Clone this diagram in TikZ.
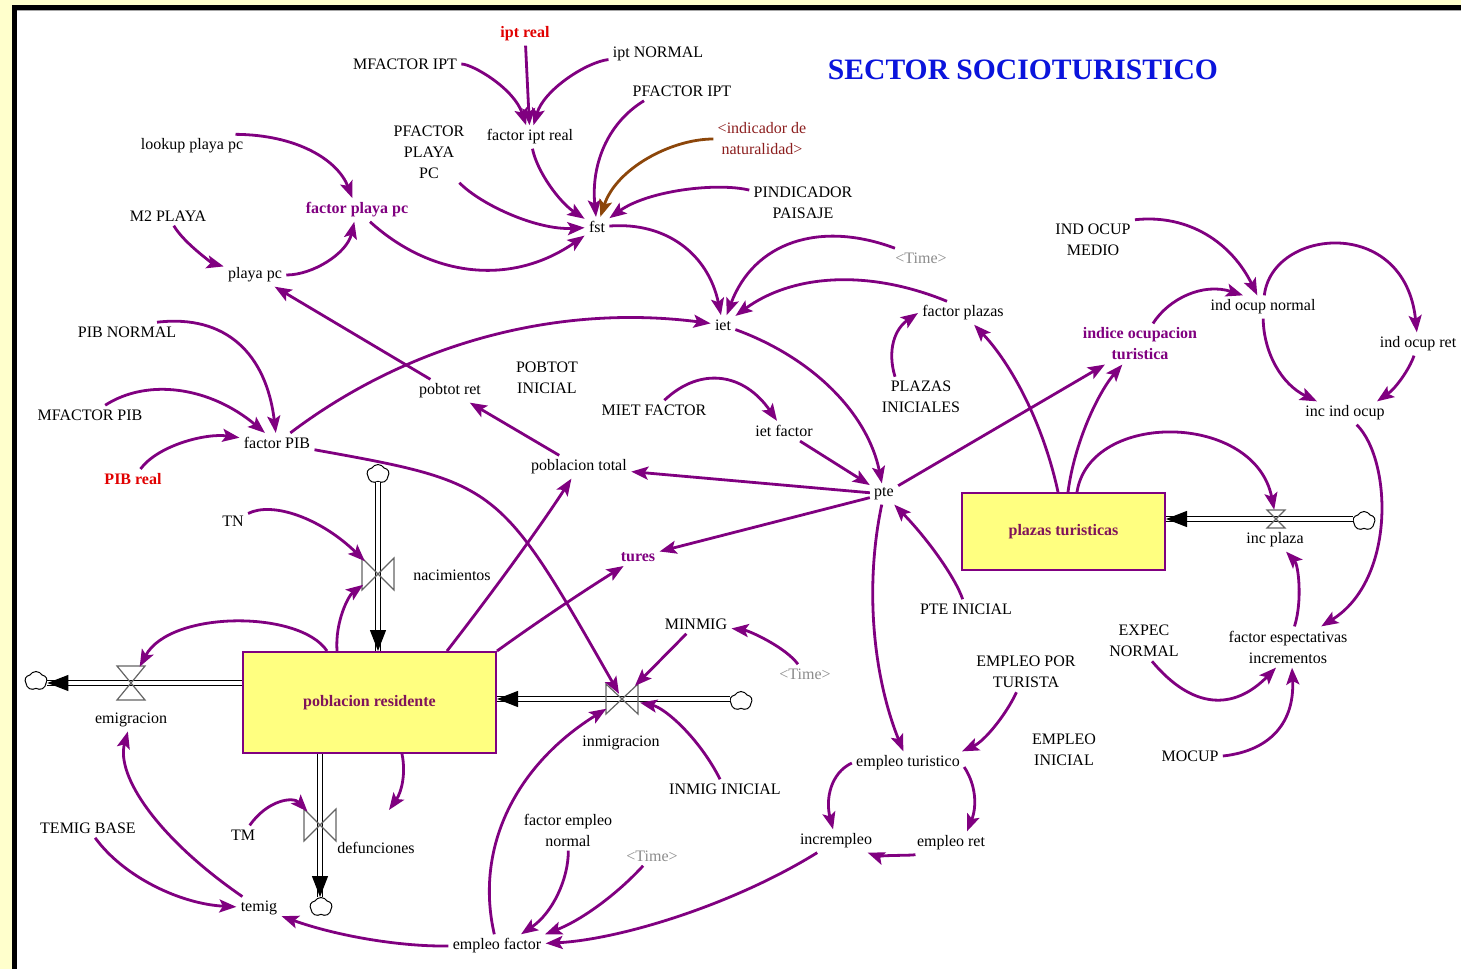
\documentclass[tikz,border=0pt]{standalone}
\usepackage{fontspec}
\setmainfont{Liberation Serif}
\usetikzlibrary{arrows.meta,shapes.symbols,calc}

\definecolor{vpurple}{RGB}{128,0,128}
\definecolor{vbrown}{RGB}{140,70,10}
\definecolor{vred}{RGB}{225,0,0}
\definecolor{tgray}{RGB}{140,140,140}
\definecolor{natred}{RGB}{140,30,30}
\definecolor{tblue}{RGB}{10,20,220}
\definecolor{stockyellow}{RGB}{255,255,128}
\definecolor{stocktext}{RGB}{128,20,90}
\definecolor{bgyellow}{RGB}{255,255,204}
\definecolor{valvegray}{RGB}{100,100,100}

\begin{document}
\begin{tikzpicture}[x=0.5pt,y=-0.5pt,
  lbl/.style={font=\fontsize{8}{10.5}\selectfont, align=center, inner sep=2pt, text=black},
  blbl/.style={lbl, font=\fontsize{8}{10.5}\selectfont\bfseries, text=vpurple},
  rlbl/.style={lbl, font=\fontsize{8}{10.5}\selectfont\bfseries, text=vred},
  glbl/.style={lbl, text=tgray},
  nlbl/.style={lbl, text=natred},
  title/.style={font=\fontsize{14.8}{18}\selectfont\bfseries, text=tblue},
  link/.style={draw=vpurple, line width=1.4pt, -{Stealth[length=8.5pt,width=6.5pt,inset=1.8pt]}},
  arc/.style={to path={.. controls ($(\tikztostart)!0.6667!(#1)$) and ($(\tikztotarget)!0.6667!(#1)$) .. (\tikztotarget) \tikztonodes}},
  stock/.style={draw=vpurple, line width=1pt, fill=stockyellow, font=\fontsize{8}{10.5}\selectfont\bfseries, text=stocktext, inner sep=0},
  vnode/.style={circle, minimum size=18pt, inner sep=0},
  valve/.style={draw=valvegray, line width=0.6pt},
  cloudn/.style={cloud, cloud puffs=5, cloud puff arc=120, aspect=1.15, draw=black, line width=0.5pt, fill=white, minimum width=11pt, minimum height=9.5pt, inner sep=0},
  pipe/.style={draw=black, line width=0.5pt, double=white, double distance=1.7pt},
  pipetip/.style={draw=white, line width=0.6pt, shorten <=12pt, -{Triangle[length=10.5pt,width=8pt,color=black]}}
]

% page, frame
\useasboundingbox (0,0) rectangle (1461,969);
\fill[bgyellow] (0,0) rectangle (1461,969);
\fill[black] (12,5) rectangle (1461,969);
\fill[white] (17,10) rectangle (1461,969);
\draw[gray!70, line width=0.6pt] (17,10.7) -- (1461,10.7);

% title
\node[title] (title) at (1023,70) {SECTOR SOCIOTURISTICO};

% variables
\node[rlbl] (iptreal) at (525,34) {ipt real};
\node[lbl] (mfipt) at (405,64) {MFACTOR IPT};
\node[lbl] (iptn) at (658,54) {ipt NORMAL};
\node[lbl] (fiptr) at (530,137) {factor ipt real};
\node[lbl] (pfipt) at (682,91) {PFACTOR IPT};
\node[nlbl] (indnat) at (762,139) {<indicador de\\naturalidad>};
\node[lbl] (pfpp) at (429,152) {PFACTOR\\PLAYA\\PC};
\node[lbl] (lpp) at (192,146) {lookup playa pc};
\node[blbl] (fpp) at (357,210) {factor playa pc};
\node[lbl] (m2p) at (168,216) {M2 PLAYA};
\node[lbl] (ppc) at (255,275) {playa pc};
\node[lbl] (fst) at (597,227) {fst};
\node[lbl] (pind) at (803,203) {PINDICADOR\\PAISAJE};
\node[glbl] (timeA) at (921,258) {<Time>};
\node[lbl] (iom) at (1093,240) {IND OCUP\\MEDIO};
\node[lbl] (ion) at (1263,307) {ind ocup normal};
\node[lbl] (ior) at (1418,344) {ind ocup ret};
\node[lbl] (fpl) at (963,313) {factor plazas};
\node[lbl] (iet) at (723,325) {iet};
\node[blbl] (iot) at (1140,344) {indice ocupacion\\turistica};
\node[lbl] (pibn) at (127,332) {PIB NORMAL};
\node[lbl] (pti) at (547,378) {POBTOT\\INICIAL};
\node[lbl] (ptr) at (450,391) {pobtot ret};
\node[lbl] (miet) at (654,410) {MIET FACTOR};
\node[lbl] (pli) at (921,397) {PLAZAS\\INICIALES};
\node[lbl] (iio) at (1345,413) {inc ind ocup};
\node[lbl] (mfpib) at (90,415) {MFACTOR PIB};
\node[lbl] (fpib) at (277,443) {factor PIB};
\node[lbl] (ietf) at (784,431) {iet factor};
\node[rlbl] (pibr) at (133,479) {PIB real};
\node[lbl] (ptot) at (579,467) {poblacion total};
\node[lbl] (pte) at (884,494) {pte};
\node[lbl] (tn) at (233,521) {TN};
\node[blbl] (tures) at (638,557) {tures};
\node[lbl] (ptei) at (966,609) {PTE INICIAL};
\node[lbl] (expn) at (1144,641) {EXPEC\\NORMAL};
\node[lbl] (fei) at (1288,647) {factor espectativas\\incrementos};
\node[lbl] (minmig) at (696,624) {MINMIG};
\node[glbl] (timeB) at (805,674) {<Time>};
\node[lbl] (ept) at (1026,672) {EMPLEO POR\\TURISTA};
\node[lbl] (ei) at (1064,750) {EMPLEO\\INICIAL};
\node[lbl] (mocup) at (1190,756) {MOCUP};
\node[lbl] (etur) at (908,763) {empleo turistico};
\node[lbl] (inmi) at (725,789) {INMIG INICIAL};
\node[lbl] (tb) at (88,828) {TEMIG BASE};
\node[lbl] (tm) at (243,835) {TM};
\node[lbl] (fen) at (568,830) {factor empleo\\normal};
\node[lbl] (incr) at (836,841) {incrempleo};
\node[lbl] (eret) at (951,843) {empleo ret};
\node[glbl] (timeC) at (652,856) {<Time>};
\node[lbl] (temig) at (259,908) {temig};
\node[lbl] (ef) at (497,946) {empleo factor};
\coordinate (defend) at (389,810);

% stocks
\node[stock, minimum width=126.5pt, minimum height=50.5pt] (pobres) at (369.5,702.5) {poblacion residente};
\node[stock, minimum width=101.5pt, minimum height=38.5pt] (plz) at (1063.5,531.5) {plazas turisticas};

% valves and clouds
\node[vnode] (vnac) at (378,574) {};
\node[vnode] (vdef) at (320,825) {};
\node[vnode] (vemi) at (131,683) {};
\node[vnode] (vinm) at (622,699) {};
\node[vnode, minimum size=9pt] (vinc) at (1276,519) {};
\node[cloudn] (cnac) at (378,474) {};
\node[cloudn] (cdef) at (321,907) {};
\node[cloudn] (cemi) at (36,681) {};
\node[cloudn] (cinm) at (741,701) {};
\node[cloudn] (cinc) at (1364,521) {};

% flow names
\node[lbl] (nacl) at (452,575) {nacimientos};
\node[lbl] (defl) at (376,848) {defunciones};
\node[lbl] (emil) at (131,720) {emigracion};
\node[lbl] (inml) at (621,743) {inmigracion};
\node[lbl] (incl) at (1275,540) {inc plaza};

% flow pipes
\draw[pipe] (cnac) -- (vnac.center) -- (pobres.north -| vnac.center);
\draw[pipetip] (vnac.center) -- (pobres.north -| vnac.center);
\draw[pipe] (pobres.south -| vdef.center) -- (vdef.center) -- (vdef.center |- cdef.north);
\draw[pipetip] (vdef.center) -- (vdef.center |- cdef.north);
\draw[pipe] (pobres.west |- vemi.center) -- (vemi.center) -- (cemi.east |- vemi.center);
\draw[pipetip] (vemi.center) -- (cemi.east |- vemi.center);
\draw[pipe] (cinm.west |- vinm.center) -- (vinm.center) -- (pobres.east |- vinm.center);
\draw[pipetip] (vinm.center) -- (pobres.east |- vinm.center);
\draw[pipe] (cinc.west |- vinc.center) -- (vinc.center) -- (plz.east |- vinc.center);
\draw[pipetip] (vinc.center) -- (plz.east |- vinc.center);

% valve symbols
\draw[valve] ([shift={(-16,-16)}]vnac.center) -- ++(0,32) -- ++(32,-32) -- ++(0,32) -- cycle;
\draw[valve] ([shift={(-16,-16)}]vdef.center) -- ++(0,32) -- ++(32,-32) -- ++(0,32) -- cycle;
\draw[valve] ([shift={(-16,-15)}]vinm.center) -- ++(0,30) -- ++(32,-30) -- ++(0,30) -- cycle;
\draw[valve] ([shift={(-14,-17)}]vemi.center) -- ++(28,0) -- ++(-28,34) -- ++(28,0) -- cycle;
\draw[valve] ([shift={(-9,-9)}]vinc.center) -- ++(18,0) -- ++(-18,18) -- ++(18,0) -- cycle;

% links: tourism attraction
\draw[link] (mfipt) to[arc={506,64}] (fiptr);
\draw[link] (iptreal) -- (fiptr);
\draw[link] (iptn) to[arc={551,66}] (fiptr);
\draw[link] (fiptr) to[arc={541,190}] (fst);
\draw[link] ([xshift=-19pt]pfipt.south) to[arc={588,135}] (fst);
\draw[link, draw=vbrown] (indnat) to[arc={626,139}] (fst);
\draw[link] (pind) to[arc={674,172}] (fst);
\draw[link] (pfpp) to[arc={508,232}] (fst);
\draw[link] (fpp) to[arc={472,314}] (fst);
\draw[link] ([xshift=-6pt]lpp.north east) to[arc={328,135}] (fpp);
\draw[link] (m2p) to[arc={193,258}] (ppc);
\draw[link] (ppc) to[arc={342,275}] (fpp);
\draw[link] (ptr) -- (ppc);
\draw[link] (fst) to[arc={701,219}] (iet);
\draw[link] (timeA) to[arc={769,201}] (iet);
\draw[link] ([xshift=-8pt]fpl.north) to[arc={824,251}] (iet);
\draw[link] ([xshift=-13pt]pli.north) to[arc={883,337}] (fpl.west);
\draw[link] (fpib) to[arc={475,293}] (iet);
\draw[link] ([xshift=15pt]pibn.north) to[arc={261,310}] (fpib);
\draw[link] (mfpib) to[arc={177,359}] (fpib);
\draw[link] (pibr) to[arc={171,428}] (fpib);

% links: tourist pressure
\draw[link] (iet) to[arc={860,375}] (pte);
\draw[link] (miet) to[arc={724,344}] (ietf);
\draw[link] (ietf) -- (pte);
\draw[link] (pte) -- (ptot);
\draw[link] (pte) -- (tures);
\draw[link] (pte) -- (iot);
\draw[link] (ptot) -- (ptr);
\draw[link] (ptei) to[arc={950,562}] (pte);
\draw[link] (pte) to[arc={855,631}] (etur);

% links: accommodation
\draw[link] ([xshift=-2.75pt]plz.north) to[arc={1036,390}] (fpl);
\draw[link] ([xshift=2.25pt]plz.north) to[arc={1078,416}] (iot);
\draw[link] ([xshift=6.75pt]plz.north) .. controls (1090,410) and (1255,412) .. (vinc);
\draw[link] (iot) to[arc={1183,276}] ([xshift=-10pt]ion.north);
\draw[link] (iom.north east) to[arc={1216,211}] (ion);
\draw[link] (ion) .. controls (1272,228) and (1405,215) .. (ior);
\draw[link] (ion) to[arc={1264,376}] ([xshift=-14pt]iio.north);
\draw[link] (ior) to[arc={1405,382}] ([xshift=16pt]iio.north);
\draw[link] (iio) .. controls (1392,460) and (1396,580) .. (fei);
\draw[link] (fei) to[arc={1310,577}] (incl);
\draw[link] ([xshift=4pt]expn.south) to[arc={1212,733}] ([xshift=-6pt]fei.south);
\draw[link] (mocup.east) to[arc={1296,748}] ([xshift=2pt]fei.south);

% links: employment
\draw[link] (ept) to[arc={996,736}] ([xshift=27pt]etur.north);
\draw[link] (etur.west) to[arc={820,778}] (incr);
\draw[link] ([yshift=-2pt]etur.east) to[arc={982,794}] ([xshift=8pt]eret.north);
\draw[link] (eret) to[arc={893,862}] (incr);
\draw[link] (incr) to[arc={683,936}] (ef);
\draw[link] (timeC) to[arc={600,913}] ([xshift=24pt]ef.north);
\draw[link] (fen) to[arc={569,902}] ([xshift=12pt]ef.north);
\draw[link] (ef) to[arc={463,798}] (vinm);
\draw[link] (ef.west) to[arc={367,947}] (temig);

% links: population
\draw[link] (tb) to[arc={142,902}] (temig);
\draw[link] (temig) to[arc={108,804}] (emil);
\draw[link] ([xshift=-21.25pt]pobres.north) .. controls (300,610) and (170,610) .. (vemi);
\draw[link] ([xshift=-16.25pt]pobres.north) to[arc={334,606}] (vnac);
\draw[link] (tn) to[arc={293,491}] (vnac);
\draw[link] (tm) to[arc={280,782}] (vdef);
\draw[link] ([xshift=16.25pt]pobres.south) to[arc={408,783}] (defend);
\draw[link] ([xshift=38.75pt]pobres.north) to[arc={523,553}] (ptot);
\draw[link] (pobres.north east) to[arc={555,609}] (tures);
\draw[link, shorten >=3pt] (fpib) .. controls (499,483) .. (vinm.center);
\draw[link] (minmig) -- (vinm);
\draw[link] (timeB) to[arc={776,634}] (minmig);
\draw[link] (inmi) to[arc={686,712}] (vinm);

\end{tikzpicture}
\end{document}
